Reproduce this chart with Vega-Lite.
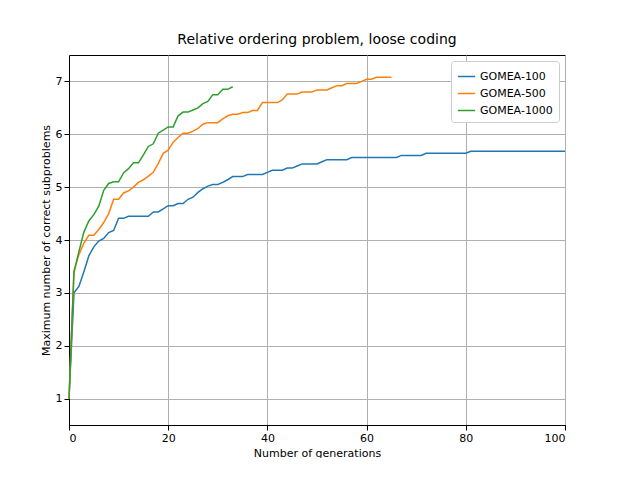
{
  "$schema": "https://vega.github.io/schema/vega-lite/v6.json",
  "width": 496,
  "height": 370,
  "padding": {"left": 40, "top": 33, "right": 0, "bottom": 0},
  "config": {
    "font": "DejaVu Sans",
    "view": {"stroke": "black"},
    "axis": {"grid": true, "gridColor": "#b0b0b0", "domainColor": "black", "tickColor": "black", "labelFontSize": 11, "titleFontSize": 11, "titleFontWeight": "normal", "labelColor": "black", "titleColor": "black", "format": "d"}
  },
  "title": {"text": "Relative ordering problem, loose coding", "fontSize": 14, "fontWeight": "normal", "offset": 8},
  "datasets": {
    "b": [1,3.0,3.12,3.4,3.7,3.87,3.98,4.03,4.14,4.18,4.41,4.41,4.45,4.45,4.45,4.45,4.45,4.53,4.53,4.59,4.65,4.65,4.69,4.69,4.77,4.81,4.9,4.97,5.02,5.05,5.05,5.09,5.14,5.2,5.2,5.2,5.24,5.24,5.24,5.24,5.28,5.32,5.32,5.32,5.36,5.36,5.4,5.44,5.44,5.44,5.44,5.48,5.52,5.52,5.52,5.52,5.52,5.56,5.56,5.56,5.56,5.56,5.56,5.56,5.56,5.56,5.56,5.6,5.6,5.6,5.6,5.6,5.64,5.64,5.64,5.64,5.64,5.64,5.64,5.64,5.64,5.68,5.68,5.68,5.68,5.68,5.68,5.68,5.68,5.68,5.68,5.68,5.68,5.68,5.68,5.68,5.68,5.68,5.68,5.68,5.68],
    "o": [1,3.42,3.72,3.94,4.09,4.09,4.2,4.33,4.5,4.77,4.77,4.89,4.93,5.0,5.09,5.14,5.21,5.28,5.45,5.64,5.7,5.85,5.94,6.02,6.02,6.06,6.11,6.19,6.22,6.22,6.22,6.29,6.35,6.38,6.38,6.41,6.41,6.45,6.45,6.6,6.6,6.6,6.6,6.65,6.76,6.76,6.76,6.8,6.8,6.8,6.84,6.84,6.84,6.88,6.92,6.92,6.96,6.96,6.96,7.0,7.04,7.04,7.08,7.08,7.08,7.08],
    "g": [1,3.39,3.78,4.15,4.36,4.48,4.64,4.94,5.07,5.1,5.1,5.27,5.35,5.46,5.46,5.61,5.77,5.82,6.02,6.08,6.14,6.14,6.35,6.42,6.42,6.46,6.5,6.58,6.62,6.75,6.75,6.85,6.85,6.9]
  },
  "data": {"name": "b"},
  "layer": [
    {
      "data": {"name": "b"},
      "transform": [{"window": [{"op": "row_number", "as": "n"}]}, {"calculate": "datum.n - 1", "as": "gen"}, {"calculate": "'GOMEA-100'", "as": "s"}],
      "mark": {"type": "line", "strokeWidth": 1.5, "clip": true},
      "encoding": {
        "x": {"field": "gen", "type": "quantitative", "scale": {"domain": [0, 100]}, "title": "Number of generations", "axis": {"values": [0,20,40,60,80,100]}},
        "y": {"field": "data", "type": "quantitative", "scale": {"domain": [0.7, 7.35]}, "title": "Maximum number of correct subproblems", "axis": {"values": [1,2,3,4,5,6,7]}},
        "color": {"field": "s", "type": "nominal", "scale": {"domain": ["GOMEA-100","GOMEA-500","GOMEA-1000"], "range": ["#1f77b4","#ff7f0e","#2ca02c"]}, "title": null,
          "legend": {"orient": "top-right", "offset": 6, "symbolType": "stroke", "symbolStrokeWidth": 1.5, "symbolSize": 300, "labelFontSize": 11, "fillColor": "white", "strokeColor": "#ccc", "padding": 6, "cornerRadius": 3}}
      }
    },
    {
      "data": {"name": "o"},
      "transform": [{"window": [{"op": "row_number", "as": "n"}]}, {"calculate": "datum.n - 1", "as": "gen"}, {"calculate": "'GOMEA-500'", "as": "s"}],
      "mark": {"type": "line", "strokeWidth": 1.5},
      "encoding": {
        "x": {"field": "gen", "type": "quantitative"},
        "y": {"field": "data", "type": "quantitative"},
        "color": {"field": "s", "type": "nominal"}
      }
    },
    {
      "data": {"name": "g"},
      "transform": [{"window": [{"op": "row_number", "as": "n"}]}, {"calculate": "datum.n - 1", "as": "gen"}, {"calculate": "'GOMEA-1000'", "as": "s"}],
      "mark": {"type": "line", "strokeWidth": 1.5},
      "encoding": {
        "x": {"field": "gen", "type": "quantitative"},
        "y": {"field": "data", "type": "quantitative"},
        "color": {"field": "s", "type": "nominal"}
      }
    }
  ]
}
